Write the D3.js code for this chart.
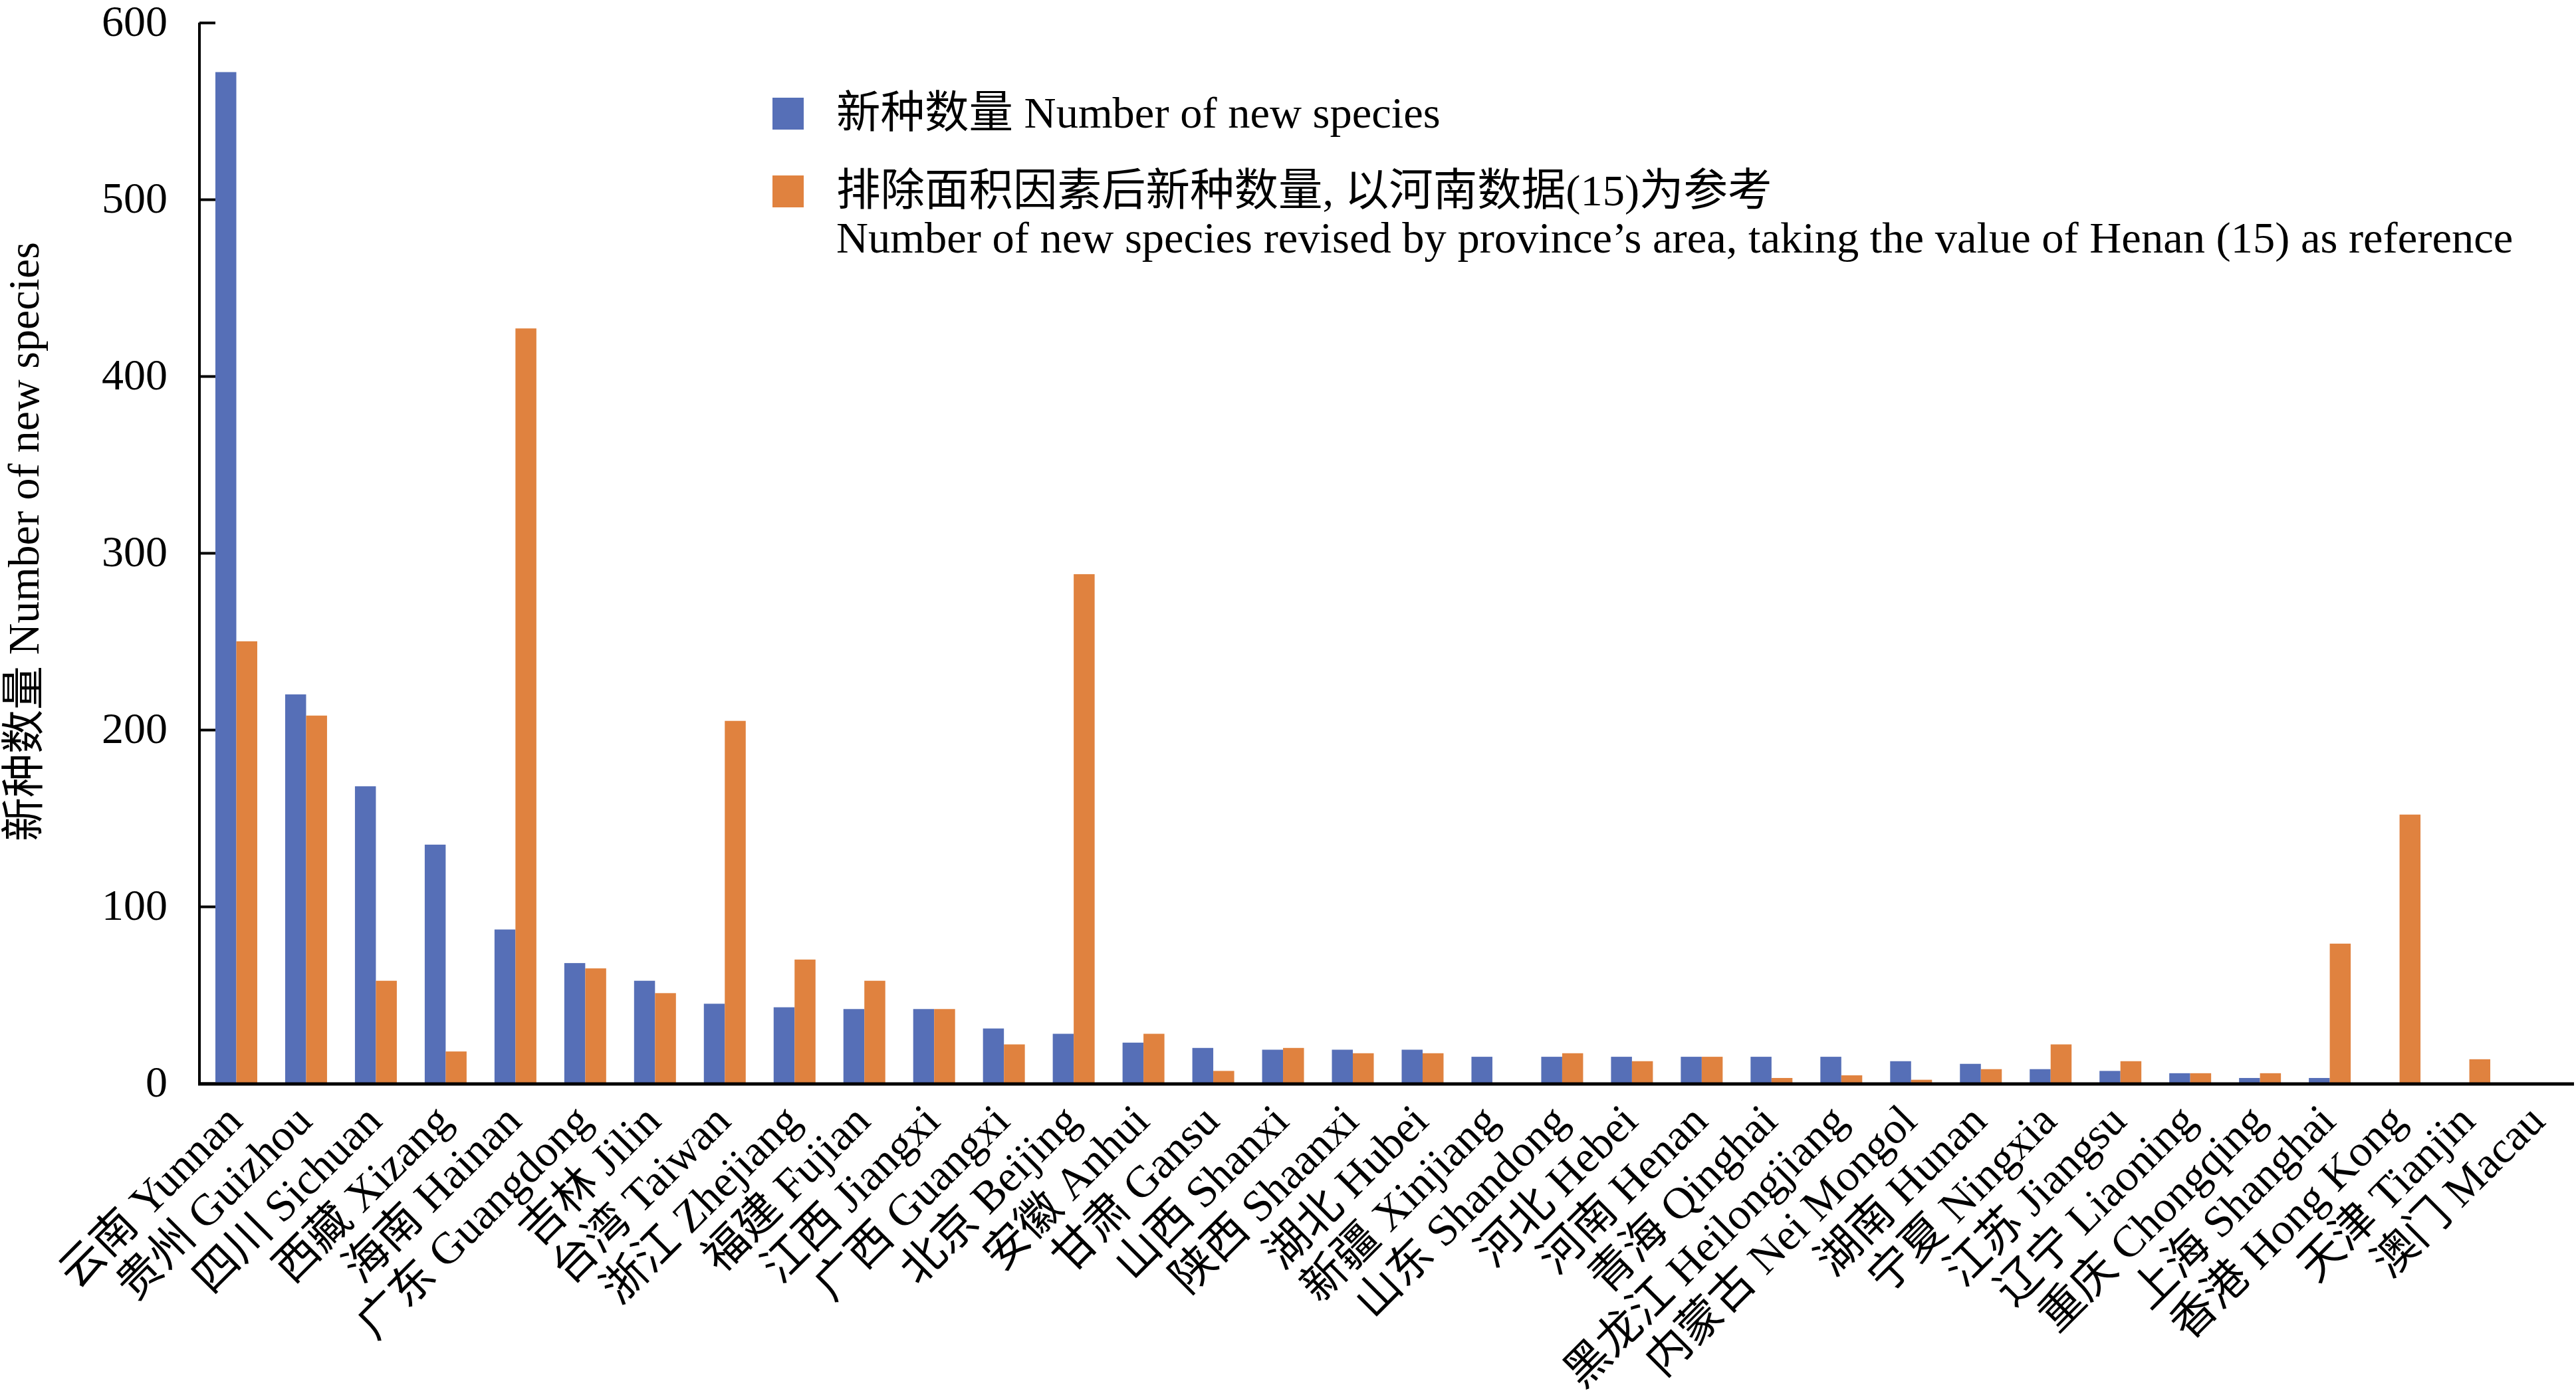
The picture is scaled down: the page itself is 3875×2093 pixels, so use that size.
<!DOCTYPE html>
<html>
<head>
<meta charset="utf-8">
<script src="https://cdn.jsdelivr.net/npm/d3@7"></script>
<style>
    body { margin: 0; background: #fff; }
    text { font-family: "Liberation Serif", "Times New Roman", "Noto Sans CJK SC", serif; fill: #000; }
</style>
</head>
<body>
<div id="canvas"><svg width="3875" height="2093"></svg></div>
<script>
const provinces = [
    "云南 Yunnan", "贵州 Guizhou", "四川 Sichuan", "西藏 Xizang", "海南 Hainan", "广东 Guangdong",
    "吉林 Jilin", "台湾 Taiwan", "浙江 Zhejiang", "福建 Fujian", "江西 Jiangxi", "广西 Guangxi",
    "北京 Beijing", "安徽 Anhui", "甘肃 Gansu", "山西 Shanxi", "陕西 Shaanxi", "湖北 Hubei",
    "新疆 Xinjiang", "山东 Shandong", "河北 Hebei", "河南 Henan", "青海 Qinghai", "黑龙江 Heilongjiang",
    "内蒙古 Nei Mongol", "湖南 Hunan", "宁夏 Ningxia", "江苏 Jiangsu", "辽宁 Liaoning", "重庆 Chongqing",
    "上海 Shanghai", "香港 Hong Kong", "天津 Tianjin", "澳门 Macau"
];

// 新种数量
const newSpecies = [572, 220, 168, 135, 87, 68, 58, 45, 43, 42, 42, 31, 28, 23, 20, 19, 19, 19,
    15, 15, 15, 15, 15, 15, 12.5, 11, 8, 7, 5.7, 3, 3, 0, 0, 0];

// 排除面积因素后新种数量
const revisedByArea = [250, 208, 58, 18, 427, 65, 51, 205, 70, 58, 42, 22, 288, 28, 7, 20, 17, 17,
    0, 17, 12.5, 15, 3, 4.5, 2, 8, 22, 12.5, 5.7, 5.7, 79, 152, 13.6, 0];

const yTicks = [0, 100, 200, 300, 400, 500, 600];

const seriesKeys = ["a", "b"];
const seriesColors = { a: "#566fb7", b: "#e0823f" };
const legendLines = [
    ["新种数量 Number of new species"],
    ["排除面积因素后新种数量, 以河南数据(15)为参考",
     "Number of new species revised by province’s area, taking the value of Henan (15) as reference"]
];

const svg = d3.select("#canvas").select("svg");
svg.append("rect").attr("width", 3875).attr("height", 2093).attr("fill", "#fff");

const plot = { left: 300, right: 3872, top: 34, bottom: 1630 };

const x = d3.scaleBand().domain(provinces).range([plot.left + 3, plot.right]).padding(0);
const bw = x.bandwidth();
const x1 = d3.scaleBand().domain(seriesKeys).range([bw * 0.2, bw * 0.8]).padding(0);
const y = d3.scaleLinear().domain([0, 600]).range([plot.bottom, plot.top]);

const rows = provinces.map((p, i) => ({ name: p, a: newSpecies[i], b: revisedByArea[i] }));

const groups = svg.append("g")
    .selectAll("g")
    .data(rows)
    .join("g")
    .attr("transform", d => `translate(${x(d.name)},0)`);

groups.selectAll("rect")
    .data(d => seriesKeys.map(k => ({ key: k, value: d[k] })))
    .join("rect")
    .attr("x", d => x1(d.key))
    .attr("width", x1.bandwidth())
    .attr("y", d => y(d.value))
    .attr("height", d => plot.bottom - y(d.value))
    .attr("fill", d => seriesColors[d.key]);

// y axis, ticks pointing inward
const yAxis = svg.append("g")
    .attr("transform", `translate(${plot.left},0)`)
    .call(d3.axisLeft(y).tickValues(yTicks).tickSize(-24).tickPadding(48).tickSizeOuter(0));
yAxis.select(".domain").attr("stroke", "#000").attr("stroke-width", 4)
    .attr("d", `M0,${plot.top}V${plot.bottom}`);
yAxis.selectAll(".tick line").attr("stroke", "#000").attr("stroke-width", 4);
yAxis.selectAll(".tick text")
    .style("font-size", "66px")
    .attr("fill", "#000")
    .attr("dy", "0.3em");

// x axis line
svg.append("line")
    .attr("x1", plot.left - 2).attr("x2", plot.right)
    .attr("y1", plot.bottom + 1).attr("y2", plot.bottom + 1)
    .attr("stroke", "#000").attr("stroke-width", 5);

// category labels, end of text sits just under each group
svg.append("g")
    .selectAll("text")
    .data(provinces)
    .join("text")
    .attr("transform", d => `translate(${x(d) + bw / 2 + 12},${plot.bottom + 60}) rotate(-45)`)
    .attr("text-anchor", "end")
    .style("font-size", "67px")
    .text(d => d);

// y title
svg.append("text")
    .attr("transform", `translate(58,815) rotate(-90)`)
    .attr("text-anchor", "middle")
    .style("font-size", "66px")
    .text("新种数量 Number of new species");

// legend
const legend = svg.append("g");
const legendY = [171, 288];
seriesKeys.forEach((k, i) => {
    legend.append("rect")
        .attr("x", 1162).attr("y", legendY[i] - 24)
        .attr("width", 47).attr("height", 48)
        .attr("fill", seriesColors[k]);
    legendLines[i].forEach((line, j) => {
        legend.append("text")
            .attr("x", 1258)
            .attr("y", legendY[i] + 21 + j * 71)
            .style("font-size", "66.5px")
            .text(line);
    });
});
</script>
</body>
</html>
